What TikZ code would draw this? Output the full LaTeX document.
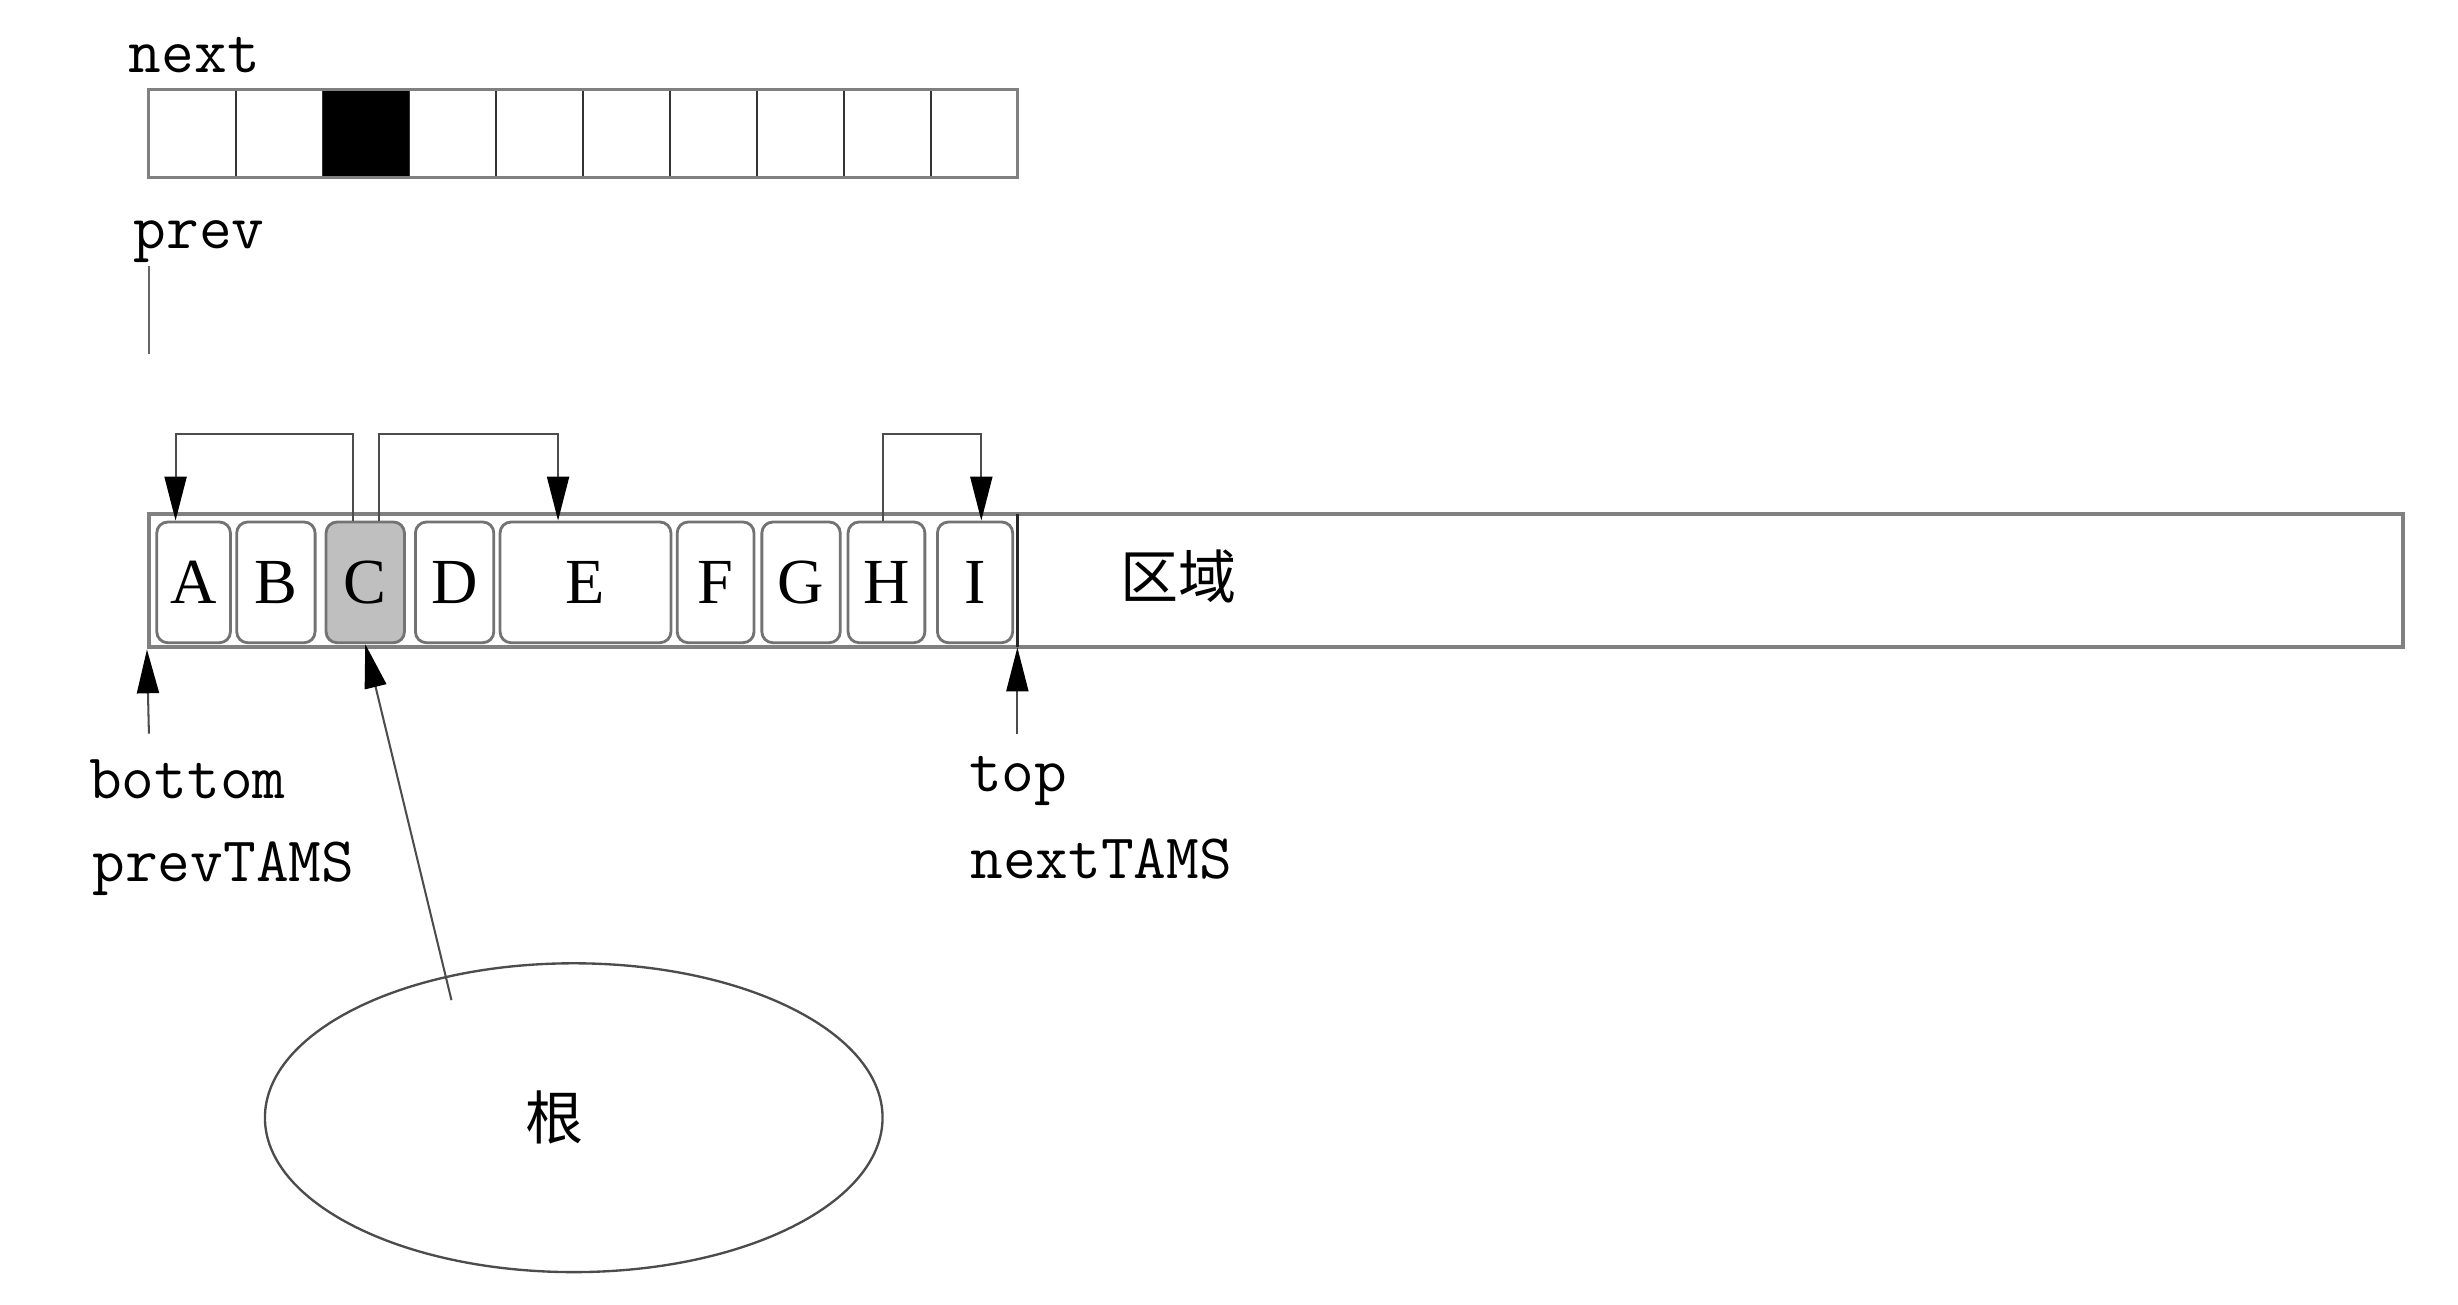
\documentclass[tikz,border=0pt]{standalone}
\usepackage{fontspec}
\setmainfont{Liberation Serif}
\newfontfamily\cjk{Noto Sans CJK SC}
\usetikzlibrary{arrows.meta,shapes.geometric}

\begin{document}
\begin{tikzpicture}[x=1pt,y=-1pt,
  cell/.style={draw=black!80, line width=1.3pt, minimum width=55.4pt,
    minimum height=56pt, inner sep=0pt, outer sep=0pt},
  obj/.style={draw=black!55, line width=1.8pt, rounded corners=7pt,
    minimum height=77pt, inner sep=0pt, font=\fontsize{41}{41}\selectfont},
  lbl/.style={font=\ttfamily\fontsize{40.5}{40.5}\selectfont, inner sep=0pt},
  cjklbl/.style={font=\cjk\fontsize{37}{37}\selectfont, inner sep=0pt},
  link/.style={draw=black!70, line width=1.3pt,
    -{Triangle[width=14pt,length=28pt,color=black]}},
  plain/.style={draw=black!60, line width=1.3pt},
]
\useasboundingbox (0,0) rectangle (1568,832);

% next bitmap
\node[lbl] (nextlbl) at (124,35) {next};
\foreach \i in {0,...,9}{
  \node[cell] (n\i) at ({95+55.4*(\i+0.5)},85) {};
}
\fill[black] (n2.north west) rectangle (n2.south east);
\draw[draw=black!50, line width=2pt] (n0.north west) rectangle (n9.south east);

% prev bitmap
\node[lbl] (prevlbl) at (127,154) {prev};
\coordinate (p1) at (95,170);
\coordinate (p2) at (95,226);
\draw[plain] (p1) -- (p2);

% region with objects
\node[draw=black!50, line width=2.5pt, minimum width=1438pt,
  minimum height=85pt, inner sep=0pt] (region) at (814,370.5) {};
\node[cjklbl] (regionlbl) at (752,368) {区域};

\node[obj, minimum width=47pt] (A) at (123.5,371.5) {A};
\node[obj, minimum width=50pt] (B) at (176,371.5) {B};
\node[obj, minimum width=50pt, fill=black!25] (C) at (233,371.5) {C};
\node[obj, minimum width=50pt] (D) at (290,371.5) {D};
\node[obj, minimum width=109pt] (E) at (373.5,371.5) {E};
\node[obj, minimum width=49pt] (F) at (456.5,371.5) {F};
\node[obj, minimum width=50pt] (G) at (511,371.5) {G};
\node[obj, minimum width=49pt] (H) at (565.5,371.5) {H};
\node[obj, minimum width=48pt] (I) at (622,371.5) {I};

% top of allocated space
\coordinate (topu) at (649,328);
\coordinate (topd) at (649,413);
\draw[draw=black!85, line width=1.5pt] (topu) -- (topd);

% references between objects
\draw[link] ([xshift=-8pt]C.north) -- ++(0,-55) -| ([xshift=-11.5pt]A.north);
\draw[link] ([xshift=9pt]C.north) -- ++(0,-55) -| ([xshift=-17.5pt]E.north);
\draw[link] ([xshift=-2.5pt]H.north) -- ++(0,-55) -| ([xshift=4pt]I.north);

% bottom / top markers
\coordinate (bfoot) at (95,468);
\coordinate (tfoot) at (649,468);
\draw[link] (bfoot) -- (region.south west);
\draw[link] (tfoot) -- (topd);
\node[lbl] (bottomlbl) at (119.5,497) {bottom};
\node[lbl] (prevtams) at (142.5,554) {prevTAMS};
\node[lbl] (toplbl) at (649.5,498) {top};
\node[lbl] (nexttams) at (702.5,548) {nextTAMS};

% root set
\node[ellipse, draw=black!70, line width=1.5pt, minimum width=394pt,
  minimum height=197pt, inner sep=0pt] (root) at (366,713) {};
\node[cjklbl] (rootlbl) at (354,713) {根};
\coordinate (rootref) at (288,638);
\draw[link] (rootref) -- (C.south);
\end{tikzpicture}
\end{document}
